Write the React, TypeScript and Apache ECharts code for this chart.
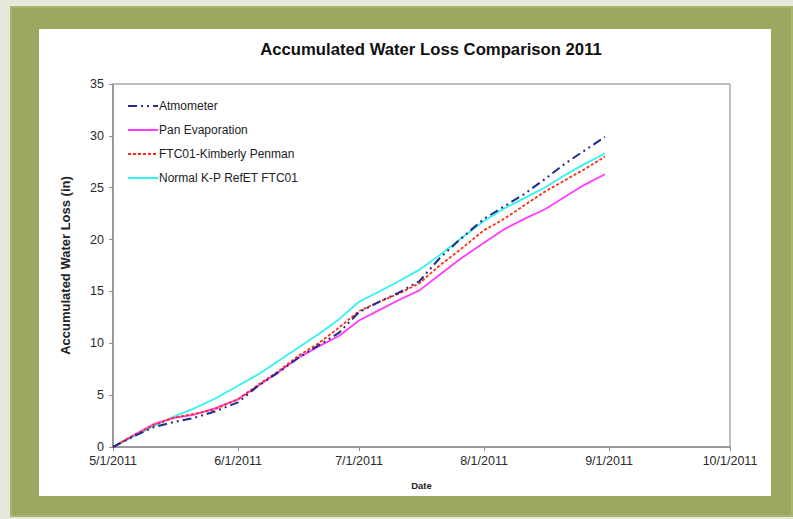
import React, { useEffect, useRef } from "react";
import * as echarts from "echarts";

const dates = [
  "5/1", "5/6", "5/11", "5/16", "5/21", "5/26", "6/1", "6/6", "6/11", "6/16",
  "6/21", "6/26", "7/1", "7/6", "7/11", "7/16", "7/21", "7/26", "8/1", "8/6",
  "8/11", "8/16", "8/21", "8/26", "8/31",
];
const atmometer = [
  0, 1.0, 1.9, 2.4, 2.8, 3.4, 4.3, 5.9, 7.2, 8.6,
  9.8, 11.0, 13.0, 14.0, 14.9, 16.0, 18.2, 20.0, 22.0, 23.2,
  24.4, 25.8, 27.3, 28.6, 29.9,
];
const panEvaporation = [
  0, 1.1, 2.2, 2.8, 3.1, 3.7, 4.6, 5.9, 7.2, 8.6,
  9.7, 10.7, 12.2, 13.2, 14.2, 15.1, 16.6, 18.1, 19.7, 21.0,
  22.0, 22.9, 24.1, 25.3, 26.3,
];
const kimberlyPenman = [
  0, 1.1, 2.1, 2.8, 3.2, 3.6, 4.6, 6.0, 7.3, 8.8,
  10.0, 11.5, 13.1, 14.0, 14.8, 15.8, 17.5, 19.0, 20.9, 22.0,
  23.3, 24.6, 25.7, 26.8, 28.0,
];
const normalRefET = [
  0, 1.0, 2.0, 2.9, 3.7, 4.6, 5.9, 7.0, 8.3, 9.6,
  10.9, 12.3, 14.0, 15.0, 16.0, 17.1, 18.5, 20.0, 21.8, 23.0,
  24.0, 25.0, 26.2, 27.3, 28.3,
];
const seriesNames = [
  "Atmometer",
  "Pan Evaporation",
  "FTC01-Kimberly Penman",
  "Normal K-P RefET FTC01",
];
const axisStart = "5/1";
const axisEnd = "10/1";
const year = 2011;

function toTime(md: string): number {
  const [m, d] = md.split("/").map(Number);
  return new Date(year, m - 1, d).getTime();
}

function pairs(values: number[]) {
  return dates.map((d, i) => [toTime(d), values[i]]);
}

export default function App() {
  const ref = useRef<HTMLDivElement>(null);

  useEffect(() => {
    if (!ref.current) return;
    const chart = echarts.init(ref.current, undefined, { renderer: "svg" });
    const font = "'Liberation Sans', Arial, sans-serif";
    const day = 24 * 3600 * 1000;
    chart.setOption({
      animation: false,
      backgroundColor: "transparent",
      textStyle: { fontFamily: font },
      title: {
        text: "Accumulated Water Loss Comparison 2011",
        left: 426,
        top: 36,
        textAlign: "center",
        textStyle: { fontFamily: font, fontSize: 16.7, fontWeight: "bold", color: "#111" },
      },
      legend: {
        orient: "vertical",
        left: 122,
        top: 95,
        itemWidth: 30,
        itemHeight: 14,
        itemGap: 12,
        itemStyle: { opacity: 0 },
        textStyle: { fontFamily: font, fontSize: 12, color: "#222", padding: [0, 0, 0, -4] },
        data: seriesNames,
      },
      grid: {
        left: 113,
        right: 63,
        top: 84,
        bottom: 72,
        show: true,
        borderColor: "#7f7f7f",
        borderWidth: 1,
        backgroundColor: "transparent",
      },
      xAxis: {
        type: "time",
        min: toTime(axisStart),
        max: toTime(axisEnd),
        splitNumber: 5,
        minInterval: 28 * day,
        maxInterval: 31 * day,
        name: "Date",
        nameLocation: "middle",
        nameGap: 33,
        nameTextStyle: { fontFamily: font, fontSize: 9.5, fontWeight: "bold", color: "#222" },
        axisLine: { show: true, lineStyle: { color: "#8c8c8c", width: 1.5 } },
        axisTick: { show: true, length: 4, lineStyle: { color: "#8c8c8c" } },
        splitLine: { show: false },
        minorTick: { show: false },
        axisLabel: {
          fontFamily: font,
          fontSize: 12.5,
          color: "#2a2a2a",
          margin: 7,
          hideOverlap: false,
          showMinLabel: true,
          showMaxLabel: true,
          formatter: (v: number) => {
            const d = new Date(v);
            return `${d.getMonth() + 1}/${d.getDate()}/${d.getFullYear()}`;
          },
        },
      },
      yAxis: {
        type: "value",
        min: 0,
        max: 35,
        interval: 5,
        name: "Accumulated Water Loss (in)",
        nameLocation: "middle",
        nameGap: 41,
        nameTextStyle: { fontFamily: font, fontSize: 13, fontWeight: "bold", color: "#222" },
        axisLine: { show: true, lineStyle: { color: "#8c8c8c", width: 1.5 } },
        axisTick: { show: true, length: 4, lineStyle: { color: "#8c8c8c" } },
        splitLine: { show: false },
        axisLabel: { fontFamily: font, fontSize: 12.5, color: "#2a2a2a", margin: 9 },
      },
      series: [
        {
          name: seriesNames[0],
          type: "line",
          symbol: "none",
          z: 4,
          data: pairs(atmometer),
          lineStyle: { color: "#1f2d8c", width: 2, type: [9, 4, 2, 4, 2, 4] },
          itemStyle: { color: "#1f2d8c" },
        },
        {
          name: seriesNames[1],
          type: "line",
          symbol: "none",
          z: 2,
          data: pairs(panEvaporation),
          lineStyle: { color: "#ff3cff", width: 1.8 },
          itemStyle: { color: "#ff3cff" },
        },
        {
          name: seriesNames[2],
          type: "line",
          symbol: "none",
          z: 3,
          data: pairs(kimberlyPenman),
          lineStyle: { color: "#ff2a10", width: 1.8, type: [3, 2] },
          itemStyle: { color: "#ff2a10" },
        },
        {
          name: seriesNames[3],
          type: "line",
          symbol: "none",
          z: 1,
          data: pairs(normalRefET),
          lineStyle: { color: "#33f2f2", width: 1.8 },
          itemStyle: { color: "#33f2f2" },
        },
      ],
    });
    return () => chart.dispose();
  }, []);

  return (
    <div
      style={{
        position: "fixed",
        left: 0,
        top: 0,
        width: 793,
        height: 519,
        background: "#e8e7dc",
        overflow: "hidden",
      }}
    >
      <div
        style={{
          position: "absolute",
          left: 10,
          top: 6,
          width: 783,
          height: 511,
          background: "#9ba861",
          boxShadow: "inset 0 0 0 2px #a9b56f",
        }}
      />
      <div
        style={{
          position: "absolute",
          left: 39,
          top: 29,
          width: 732,
          height: 467,
          background: "#ffffff",
        }}
      />
      <div
        ref={ref}
        style={{ position: "absolute", left: 0, top: 0, width: 793, height: 519 }}
      />
    </div>
  );
}
